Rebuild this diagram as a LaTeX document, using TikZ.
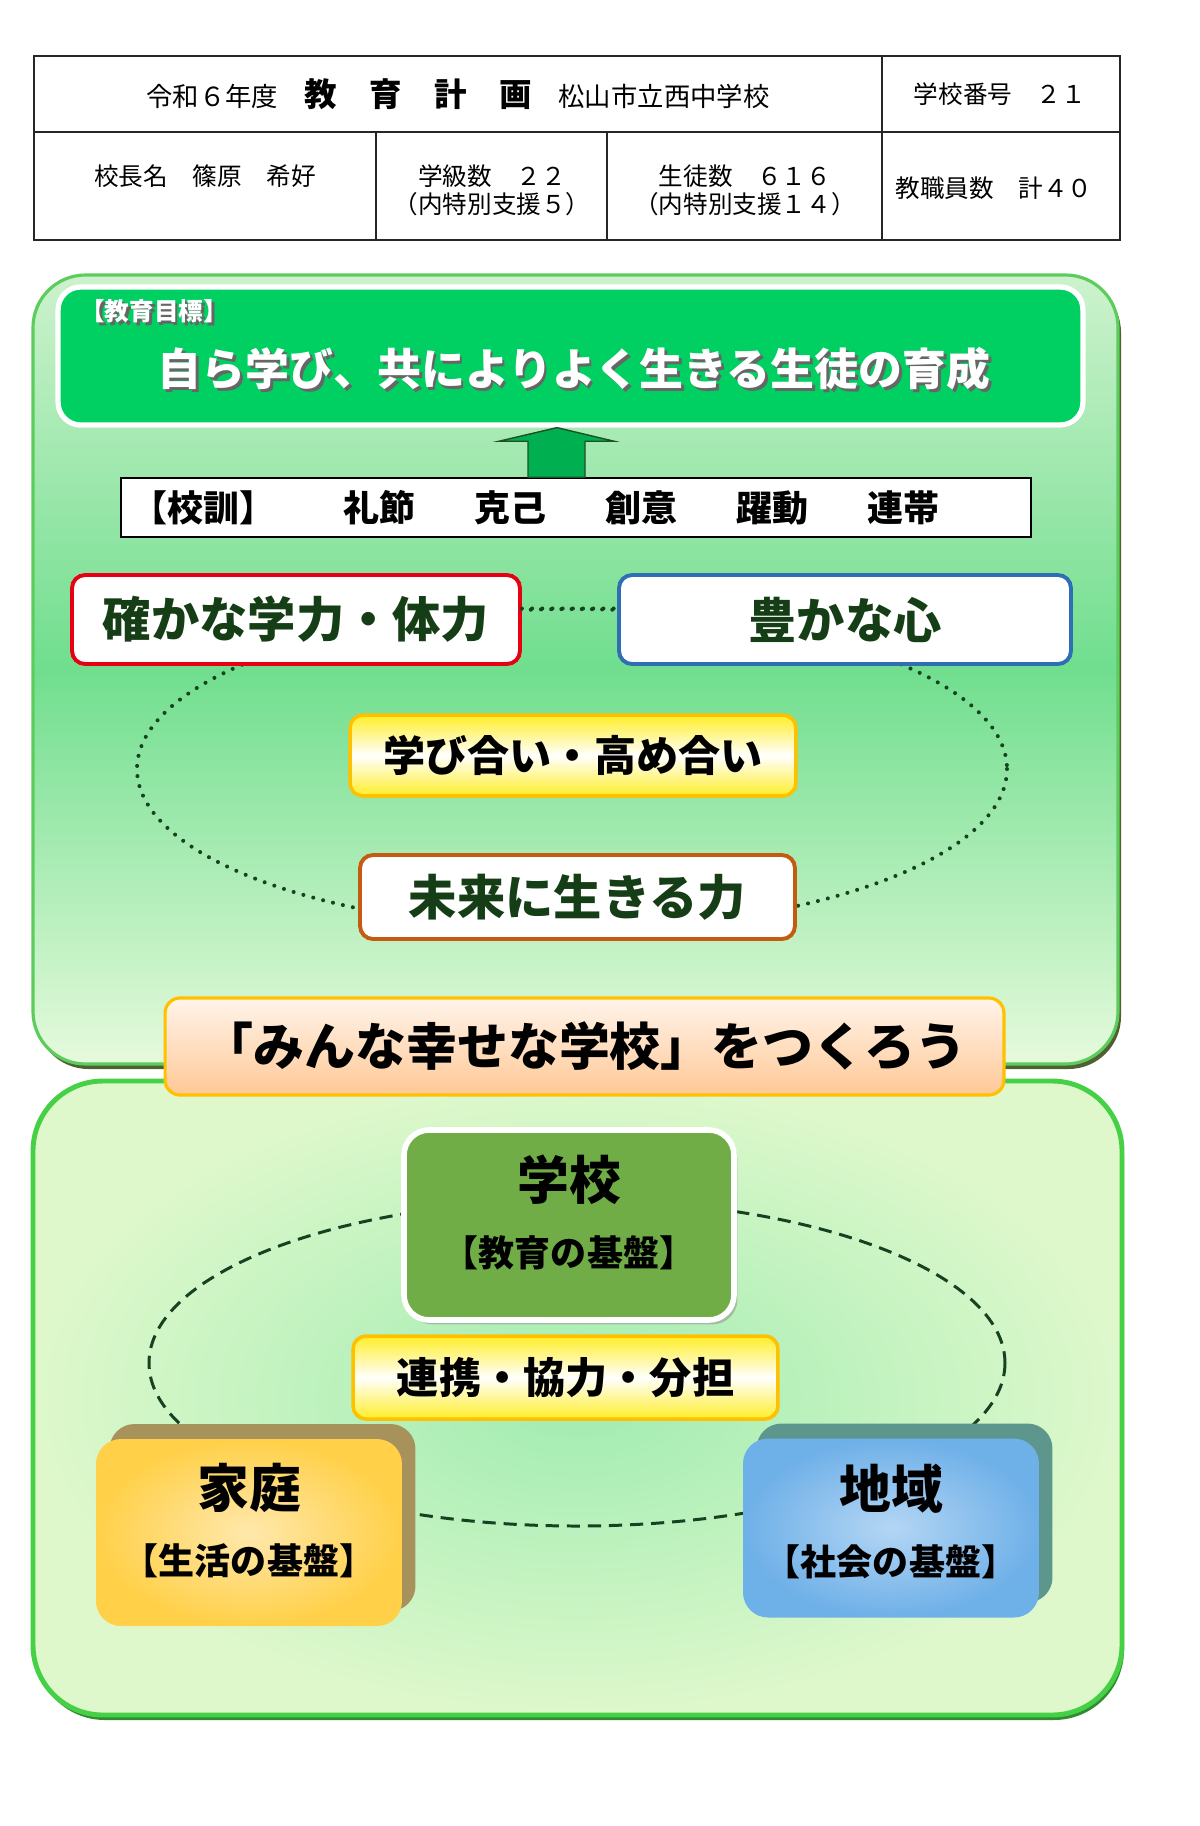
\documentclass[tikz,border=0pt]{standalone}
\usepackage{fontspec}
\setmainfont{Noto Sans CJK JP}
\usepackage{xcolor}
\usetikzlibrary{positioning,calc,shadows}

\definecolor{goalgreen}{RGB}{0,208,98}
\definecolor{arrgreen}{RGB}{0,176,80}
\definecolor{arrline}{RGB}{30,80,40}
\definecolor{upA}{RGB}{205,242,205}
\definecolor{upB}{RGB}{112,222,142}
\definecolor{upC}{RGB}{230,250,220}
\definecolor{upline}{RGB}{92,204,92}
\definecolor{upshadow}{RGB}{80,96,50}
\definecolor{lowA}{RGB}{160,236,176}
\definecolor{lowB}{RGB}{222,248,204}
\definecolor{lowline}{RGB}{70,208,70}
\definecolor{lowshadow}{RGB}{50,140,50}
\definecolor{darktxt}{RGB}{22,62,22}
\definecolor{dotgreen}{RGB}{22,66,34}
\definecolor{redline}{RGB}{230,0,18}
\definecolor{blueline}{RGB}{46,110,180}
\definecolor{brownline}{RGB}{197,90,17}
\definecolor{gold}{RGB}{255,192,0}
\definecolor{yel}{RGB}{255,238,40}
\definecolor{peachA}{RGB}{255,244,234}
\definecolor{peachB}{RGB}{255,200,150}
\definecolor{schoolgreen}{RGB}{112,173,71}
\definecolor{homeIn}{RGB}{255,232,172}
\definecolor{homeOut}{RGB}{255,208,72}
\definecolor{homeshadow}{RGB}{168,146,92}
\definecolor{areaIn}{RGB}{180,214,244}
\definecolor{areaOut}{RGB}{110,176,232}
\definecolor{areashadow}{RGB}{92,150,140}

\newcommand{\shadowed}[1]{\makebox[0pt][l]{\hspace{1.6pt}\raisebox{-1.6pt}{\color{black!60}#1}}#1}

\begin{document}
\begin{tikzpicture}[
  x=0.02cm, y=-0.02cm,
  tab/.style={align=center, inner sep=0pt, font=\fontsize{14}{16}\selectfont},
  pill/.style={draw, line width=2.2pt, rounded corners=0.26cm, fill=white, inner sep=0pt, text=darktxt, font=\fontsize{27.5}{30}\selectfont\bfseries},
  yelbox/.style={draw=gold, line width=2pt, rounded corners=0.26cm, top color=yel, bottom color=yel, middle color=white, inner sep=0pt, font=\fontsize{24}{26}\selectfont\bfseries},
  base/.style={rounded corners=0.5cm, align=center, inner sep=0pt, font=\fontsize{20.5}{38}\selectfont\bfseries},
  dots/.style={draw=dotgreen, line width=2.3pt, line cap=round, dash pattern=on 0pt off 5.8pt},
  dsh/.style={draw=dotgreen, line width=1.7pt, dash pattern=on 7.5pt off 4.5pt},
  uparr/.style={fill=arrgreen, draw=arrline, line width=0.8pt, line join=miter}]

\useasboundingbox[fill=white] (0,0) rectangle (1200,1826);

\draw[line width=0.8pt, black!85] (34,56) rectangle (1120,240);
\draw[line width=0.8pt, black!85] (34,132) -- (1120,132) (882,56) -- (882,240);
\foreach \xx in {376,607} \draw[line width=0.8pt, black!85] (\xx,132) -- (\xx,240);

\node[tab, font=\fontsize{15}{17}\selectfont] (title) at (458,94) {令和６年度　{\fontsize{18.5}{20}\selectfont\bfseries 教　育　計　画}　松山市立西中学校};
\node[tab] (no) at (1000,94) {学校番号　２１};
\node[tab] (head) at (205,176) {校長名　篠原　希好};
\node[tab] (cls) at (492,190) {学級数　２２\\（内特別支援５）};
\node[tab] (stu) at (745,190) {生徒数　６１６\\（内特別支援１４）};
\node[tab] (staff) at (994,188) {教職員数　計４０};

\fill[upshadow, rounded corners=1.05cm] (36,280) rectangle (1121,1069);
\path[draw=upline, line width=1.8pt, top color=upA, bottom color=upC, middle color=upB, rounded corners=1.05cm] (33,275) rectangle (1118,1064);

\fill[lowshadow, rounded corners=1.4cm] (35,1086) rectangle (1124,1720);
\path[draw=lowline, line width=2.8pt, inner color=lowA, outer color=lowB, rounded corners=1.4cm] (33,1081) rectangle (1122,1715);

\draw[dots] (572,769) ellipse [x radius=435, y radius=160];
\draw[dsh] (577,1363) ellipse [x radius=428, y radius=163];

\node[draw=white, line width=3pt, fill=goalgreen, rounded corners=0.45cm, minimum width=20.5cm, minimum height=2.76cm,
  drop shadow={shadow xshift=1pt, shadow yshift=-1.5pt, fill=black!30}] (goal) at (570.5,356) {};
\node[inner sep=0pt, anchor=west, text=white, font=\fontsize{14}{16}\selectfont\bfseries] (goaltag) at (80,313) {\shadowed{【教育目標】}};
\node[inner sep=0pt, text=white, font=\fontsize{25}{28}\selectfont\bfseries] (goaltxt) at (574,370) {\shadowed{自ら学び、共によりよく生きる生徒の育成}};

\node[draw, line width=0.9pt, fill=white, minimum height=1.18cm, text width=17.8cm, inner xsep=0.2cm, inner ysep=0pt, align=left,
  font=\fontsize{20.5}{23}\selectfont\bfseries] (kun) at (576,507.5) {【校訓】\hspace{1.9em}礼節\hspace{1.64em}克己\hspace{1.64em}創意\hspace{1.64em}躍動\hspace{1.64em}連帯};
\draw[uparr] ($(kun.north)+(-48,0)$) -- ++(0,-36) -- ++(-29,0) -- ($(goal.south)+(-13.5,0)$) -- ($(kun.north)+(38,-36)$) -- ++(-29,0) -- ++(0,36) -- cycle;

\node[pill, draw=redline, minimum width=8.96cm, minimum height=1.78cm] (sure) at (296,619.5) {確かな学力・体力};
\node[pill, draw=blueline, minimum width=9.04cm, minimum height=1.78cm] (heart) at (845,619.5) {豊かな心};
\draw[dots] ([yshift=0.22cm]sure.east) -- ([yshift=0.22cm]heart.west);

\node[yelbox, minimum width=8.92cm, minimum height=1.62cm] (mutual) at (573,755.5) {学び合い・高め合い};
\node[pill, draw=brownline, minimum width=8.7cm, minimum height=1.68cm] (future) at (577.5,897) {未来に生きる力};

\node[draw=gold, line width=1.8pt, rounded corners=0.3cm, top color=peachA, bottom color=peachB, minimum width=16.78cm, minimum height=1.94cm,
  inner sep=0pt, font=\fontsize{29}{32}\selectfont\bfseries] (happy) at (584.5,1046.5) {「みんな幸せな学校」をつくろう};

\node[base, draw=white, line width=3.2pt, fill=schoolgreen, minimum width=6.6cm, minimum height=3.8cm, text depth=16pt,
  drop shadow={shadow xshift=2pt, shadow yshift=-2.5pt, fill=black!45}] (school) at (569,1225) {{\fontsize{29.5}{32}\selectfont 学校}\\【教育の基盤】};

\node[yelbox, minimum width=8.5cm, minimum height=1.66cm] (coop) at (565.5,1377.5) {連携・協力・分担};

\node[base, inner color=homeIn, outer color=homeOut, minimum width=6.12cm, minimum height=3.74cm, text depth=16pt,
  general shadow={shadow xshift=0.27cm, shadow yshift=0.3cm, fill=homeshadow}] (home) at (249,1532.5) {{\fontsize{29.5}{32}\selectfont 家庭}\\【生活の基盤】};
\node[base, inner color=areaIn, outer color=areaOut, minimum width=5.92cm, minimum height=3.58cm, text depth=9.5pt,
  general shadow={shadow xshift=0.27cm, shadow yshift=0.3cm, fill=areashadow}] (area) at (891,1528) {{\fontsize{29.5}{32}\selectfont 地域}\\【社会の基盤】};
\end{tikzpicture}
\end{document}
